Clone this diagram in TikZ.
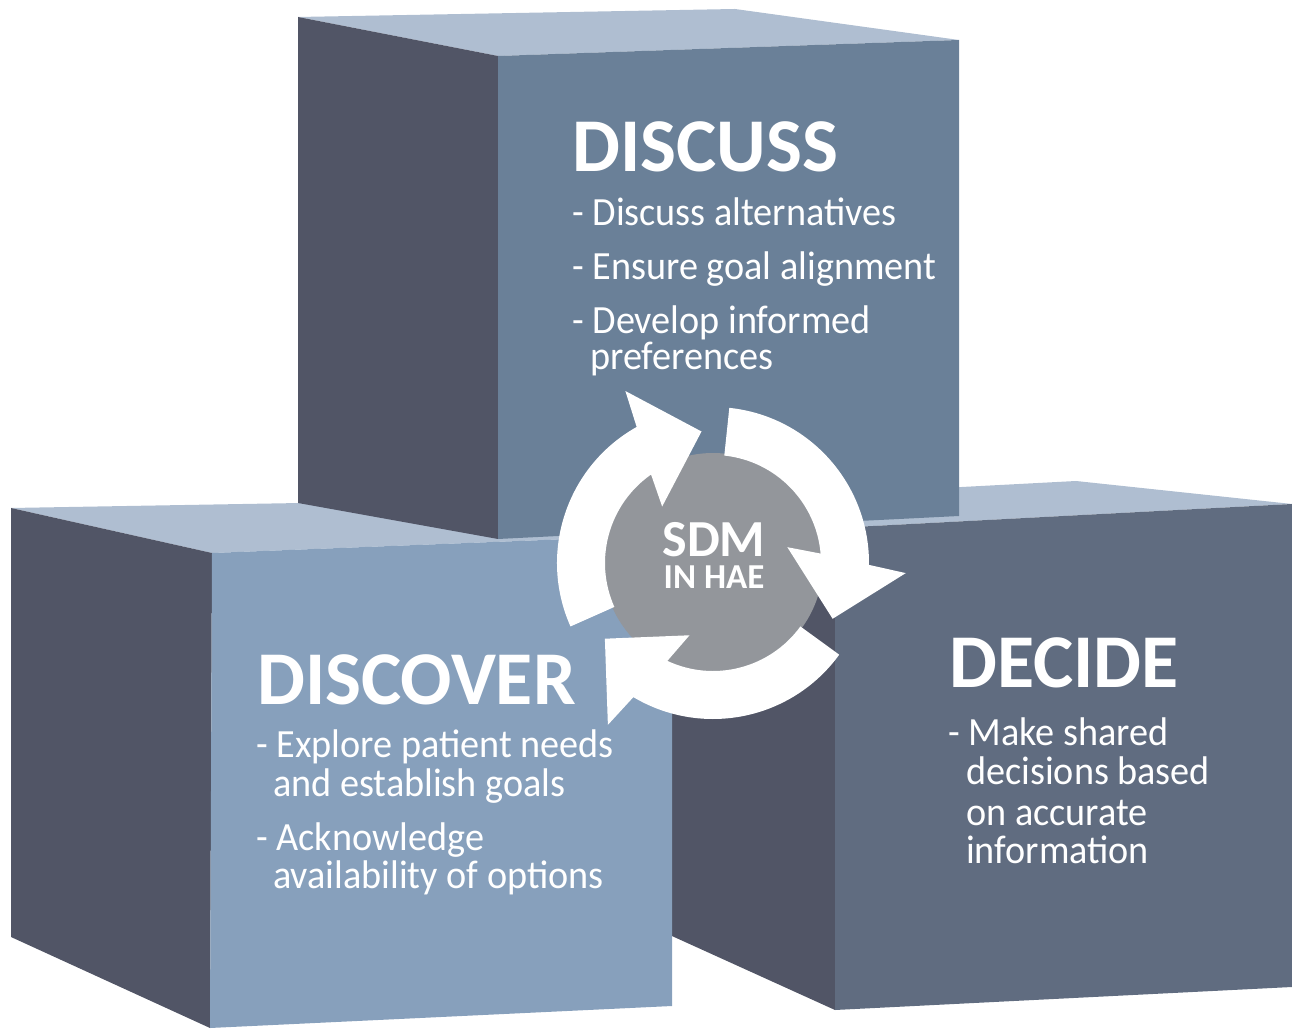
\documentclass[tikz,border=0pt]{standalone}
\usepackage{fontspec}
\setmainfont{Carlito}
\newfontfamily\bodyfont[FakeStretch=0.955]{Carlito}
\definecolor{sideC}{RGB}{81,85,102}
\definecolor{topC}{RGB}{175,190,209}
\definecolor{discussC}{RGB}{106,128,152}
\definecolor{discoverC}{RGB}{135,160,188}
\definecolor{decideC}{RGB}{96,108,128}
\definecolor{hubC}{RGB}{147,150,155}
\begin{document}
\begin{tikzpicture}[x=1pt,y=1pt,
  txt/.style={anchor=base west, inner sep=0pt, text=white, text depth=0pt, font=\bodyfont\fontsize{40}{40}\selectfont},
  head/.style={anchor=base west, inner sep=0pt, text=white, text depth=0pt, font=\fontsize{76}{76}\selectfont\bfseries}]
\useasboundingbox (0,0) rectangle (1292,1028);
% DECIDE cube (right)
\fill[topC] (835,500) -- (1292,524) -- (1076,547) -- (619,523) -- cycle;
\fill[sideC] (619,523) -- (835,500) -- (835,18) -- (619,116) -- cycle;
\fill[decideC] (835,500) -- (1292,524) -- (1292,41) -- (835,18) -- cycle;
% DISCOVER top
\fill[topC] (11,520) -- (475,528) -- (672,493) -- (212,475) -- cycle;
% DISCUSS cube (top)
\fill[topC] (298,1011) -- (735,1019) -- (959,988) -- (498,972) -- cycle;
\fill[sideC] (298,1011) -- (498,972) -- (498,489) -- (298,525) -- cycle;
\fill[discussC] (498,972) -- (959,988) -- (959,512) -- (498,489) -- cycle;
% DISCOVER cube sides
\fill[sideC] (11,520) -- (212,475) -- (210,0) -- (11,91) -- cycle;
\fill[discoverC] (212,475) -- (672,493) -- (672,22) -- (210,0) -- cycle;
% hub
\node[circle, fill=hubC, minimum size=220pt, inner sep=0pt] (hub) at (713,465) {};
\foreach \r in {0,-120,-240}{
\begin{scope}[shift={(hub.center)}, rotate=\r]
\fill[white] (204:156) arc[start angle=204, end angle=119.3, radius=156]
  -- (117:193) -- (95:132) -- (132:76) -- (125:108)
  arc[start angle=125, end angle=204, radius=108] -- cycle;
\end{scope}}
\node[anchor=base, inner sep=0pt, text=white, text depth=0pt, font=\fontsize{52}{52}\selectfont\bfseries] (sdm) at (714,471) {SDM};
\node[anchor=base, inner sep=0pt, text=white, text depth=0pt, text height=22pt, font=\fontsize{35}{35}\selectfont\bfseries] (hae) at (714,439) {IN HAE};
% DISCUSS text
\node[head] (h1) at (572,856) {DISCUSS};
\node[txt] (a1) at (572,802) {- Discuss alternatives};
\node[txt] (a2) at (572,748) {- Ensure goal alignment};
\node[txt] (a3) at (572,694) {- Develop informed};
\node[txt] (a4) at (590,658) {preferences};
% DISCOVER text
\node[head] (h2) at (257,323) {DISCOVER};
\node[txt] (b1) at (256,270) {- Explore patient needs};
\node[txt] (b2) at (273,231) {and establish goals};
\node[txt] (b3) at (256,178) {- Acknowledge};
\node[txt] (b4) at (273,140) {availability of options};
% DECIDE text
\node[head] (h3) at (949,340) {DECIDE};
\node[txt] (c1) at (948,282) {- Make shared};
\node[txt] (c2) at (966,243) {decisions based};
\node[txt] (c3) at (966,203) {on accurate};
\node[txt] (c4) at (966,165) {information};
\end{tikzpicture}
\end{document}
